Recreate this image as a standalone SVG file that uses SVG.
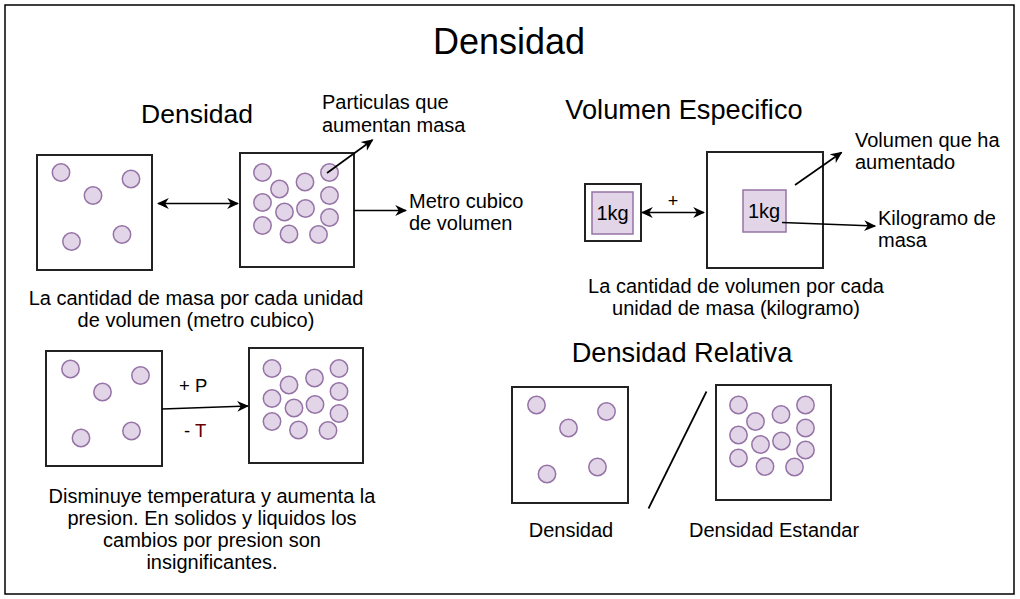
<svg xmlns="http://www.w3.org/2000/svg" width="1020" height="599" viewBox="0 0 1020 599">
<style>
text{font-family:"Liberation Sans",Arial,sans-serif;fill:#000;}
.t20{font-size:20px;}
.c{text-anchor:middle;}
.box{fill:#fff;stroke:#222;stroke-width:2;}
.p{fill:#e1d5e7;stroke:#9673a6;stroke-width:1.5;}
.kg{fill:#e1d5e7;stroke:#9673a6;stroke-width:1.5;}
.ln{fill:none;stroke:#000;stroke-width:1.7;}
</style>
<defs>
<marker id="ah" viewBox="0 0 10 10" refX="9" refY="5" markerWidth="12" markerHeight="12" markerUnits="userSpaceOnUse" orient="auto-start-reverse">
<path d="M0,0.5 L10,5 L0,9.5 L3,5 z" fill="#000"/>
</marker>
<g id="few">
<circle class="p" cx="0" cy="0" r="8.7"/>
<circle class="p" cx="70" cy="6.5" r="8.7"/>
<circle class="p" cx="32" cy="23" r="8.7"/>
<circle class="p" cx="10.5" cy="69" r="8.7"/>
<circle class="p" cx="61" cy="62" r="8.7"/>
</g>
<g id="many">
<circle class="p" cx="0" cy="0" r="8.7"/>
<circle class="p" cx="17" cy="16.5" r="8.7"/>
<circle class="p" cx="42.5" cy="9.5" r="8.7"/>
<circle class="p" cx="67" cy="0" r="8.7"/>
<circle class="p" cx="0" cy="30" r="8.7"/>
<circle class="p" cx="67" cy="23" r="8.7"/>
<circle class="p" cx="22" cy="39.5" r="8.7"/>
<circle class="p" cx="43" cy="36" r="8.7"/>
<circle class="p" cx="67" cy="45" r="8.7"/>
<circle class="p" cx="0" cy="53" r="8.7"/>
<circle class="p" cx="26.5" cy="61.5" r="8.7"/>
<circle class="p" cx="56" cy="62" r="8.7"/>
</g>
</defs>
<rect x="0" y="0" width="1020" height="599" fill="#fff"/>
<rect id="frame" x="5" y="5" width="1009" height="589" fill="none" stroke="#000" stroke-width="1.5"/>

<text id="title" x="509" y="54" class="c" style="font-size:36px">Densidad</text>

<g id="sec-densidad">
<text x="197" y="123" class="c" style="font-size:26.5px">Densidad</text>
</g>
<g id="box1"><rect class="box" x="37" y="155" width="115" height="115"/><use href="#few" x="61" y="172.5"/></g>
<g id="box2"><rect class="box" x="240" y="153" width="114" height="114"/><use href="#many" x="262.5" y="172.5"/></g>
<g id="lbl-particulas"><text x="322" y="109" class="t20">Particulas que</text><text x="322" y="131.5" class="t20">aumentan masa</text></g>
<g id="lbl-metro"><text x="409" y="207.5" class="t20">Metro cubico</text><text x="409" y="230" class="t20">de volumen</text></g>
<g id="lbl-def1"><text x="196" y="305" class="t20 c">La cantidad de masa por cada unidad</text><text x="196" y="327" class="t20 c">de volumen (metro cubico)</text></g>

<g id="box3"><rect class="box" x="46" y="351" width="116" height="115"/><use href="#few" x="70.5" y="369"/></g>
<g id="box4"><rect class="box" x="249" y="348" width="114" height="115"/><use href="#many" x="272" y="368.5"/></g>
<g id="lbl-pt"><text x="179" y="392" style="font-size:18.5px">+ P</text><text x="184" y="437" style="font-size:18.5px">- <tspan fill="#660000">T</tspan></text></g>
<g id="lbl-def2">
<text x="212" y="503" class="t20 c">Disminuye temperatura y aumenta la</text>
<text x="212" y="525" class="t20 c">presion. En solidos y liquidos los</text>
<text x="212" y="547" class="t20 c">cambios por presion son</text>
<text x="212" y="569" class="t20 c">insignificantes.</text>
</g>

<g id="sec-volumen"><text x="684" y="119" class="c" style="font-size:27.2px">Volumen Especifico</text></g>
<g id="box-small"><rect class="box" x="585" y="184" width="56" height="57" stroke-width="1.5"/><rect class="kg" x="592" y="192" width="41" height="42"/><text x="612.5" y="220" class="t20 c">1kg</text></g>
<g id="box-big"><rect class="box" x="707" y="152" width="116" height="116" stroke-width="1.5"/><rect class="kg" x="743" y="190" width="43" height="42"/><text x="764" y="218" class="t20 c">1kg</text></g>
<g id="lbl-plus"><text x="673" y="207" class="c" style="font-size:18px">+</text></g>
<g id="lbl-volumen"><text x="855" y="147" class="t20">Volumen que ha</text><text x="855" y="169" class="t20">aumentado</text></g>
<g id="lbl-kilo"><text x="878" y="225" class="t20">Kilogramo de</text><text x="878" y="247" class="t20">masa</text></g>
<g id="lbl-def3"><text x="736" y="293" class="t20 c">La cantidad de volumen por cada</text><text x="736" y="315" class="t20 c">unidad de masa (kilogramo)</text></g>

<g id="sec-relativa"><text x="682" y="362" class="c" style="font-size:27.2px">Densidad Relativa</text></g>
<g id="box5"><rect class="box" x="512" y="387" width="116" height="116"/><use href="#few" x="536.5" y="405"/></g>
<g id="box6"><rect class="box" x="716" y="385" width="115" height="115" stroke="#444"/><use href="#many" x="738.5" y="405"/></g>
<g id="lbl-dens"><text x="571" y="537" class="t20 c">Densidad</text></g>
<g id="lbl-estandar"><text x="774" y="537" class="t20 c">Densidad Estandar</text></g>

<g id="connectors">
<line class="ln" x1="158" y1="203.5" x2="238" y2="203.5" marker-start="url(#ah)" marker-end="url(#ah)"/>
<line class="ln" x1="327" y1="173" x2="372.5" y2="140" marker-end="url(#ah)"/>
<line class="ln" x1="354" y1="210.5" x2="406" y2="210.5" marker-end="url(#ah)"/>
<line class="ln" x1="162" y1="409" x2="248" y2="406" marker-end="url(#ah)"/>
<line class="ln" x1="642" y1="212.5" x2="704" y2="212.5" marker-start="url(#ah)" marker-end="url(#ah)"/>
<line class="ln" x1="795" y1="185" x2="841.5" y2="152.5" marker-end="url(#ah)"/>
<line class="ln" x1="782" y1="222.5" x2="875" y2="226" marker-end="url(#ah)"/>
<line class="ln" x1="706.5" y1="391.5" x2="648.5" y2="508.5"/>
</g>
</svg>
